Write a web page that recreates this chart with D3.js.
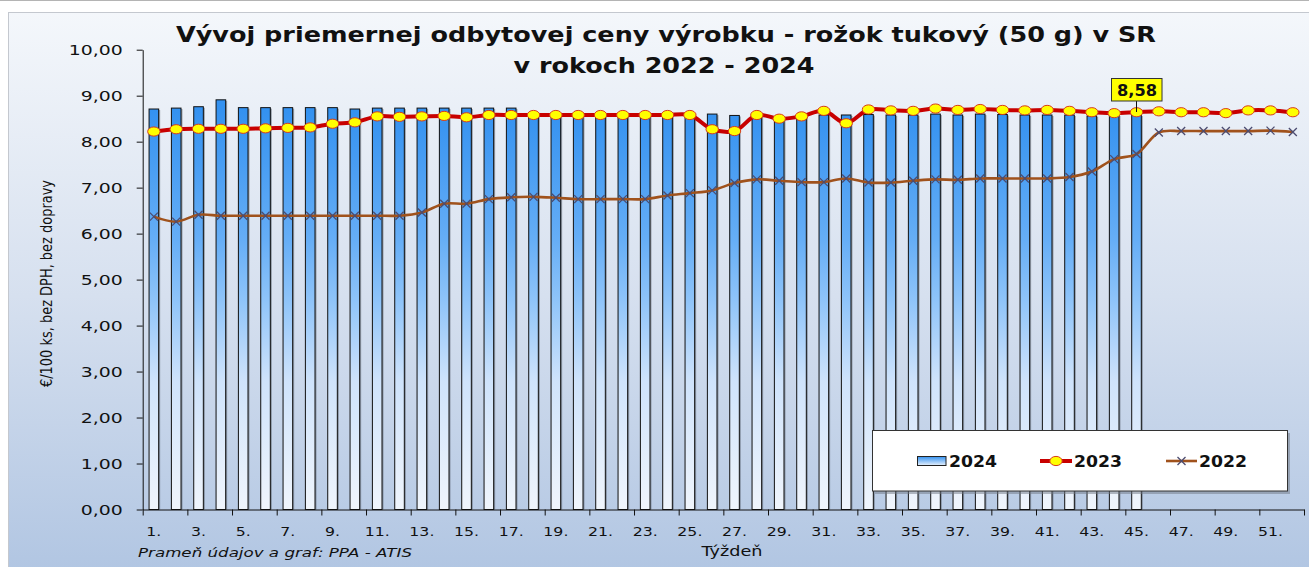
<!DOCTYPE html>
<html>
<head>
<meta charset="utf-8">
<script src="https://cdn.jsdelivr.net/npm/d3@7"></script>
<style>
  body {margin:0; background:#fff;}
  svg {display:block;}
</style>
</head>
<body>
<svg id="holder"></svg>
<script>
// categories (weeks)
var weeks=[1,2,3,4,5,6,7,8,9,10,11,12,13,14,15,16,17,18,19,20,21,22,23,24,25,26,
  27,28,29,30,31,32,33,34,35,36,37,38,39,40,41,42,43,44,45,46,47,48,49,50,51,52];

// 2024 (bars), weeks 1-45
var values2024=[8.71,8.73,8.76,8.91,8.74,8.74,8.74,8.74,8.74,8.71,8.73,8.73,8.73,8.73,8.73,8.73,8.73,
  8.58,8.58,8.58,8.58,8.58,8.58,8.58,8.58,8.60,8.57,8.58,8.52,8.55,8.58,8.58,8.59,8.58,8.58,
  8.60,8.58,8.60,8.59,8.58,8.58,8.58,8.56,8.58,8.58];

// 2023 (red line)
var values2023=[8.22,8.27,8.28,8.28,8.28,8.29,8.30,8.31,8.39,8.42,8.55,8.54,8.55,8.56,8.53,8.58,8.58,
  8.58,8.58,8.58,8.58,8.58,8.58,8.58,8.58,8.27,8.23,8.58,8.50,8.55,8.67,8.40,8.70,8.68,8.67,
  8.72,8.69,8.71,8.69,8.68,8.69,8.67,8.64,8.62,8.64,8.66,8.64,8.64,8.62,8.68,8.68,8.64];

// 2022 (brown line)
var values2022=[6.37,6.26,6.41,6.39,6.39,6.39,6.39,6.39,6.39,6.39,6.39,6.39,6.46,6.65,6.65,6.75,6.79,
  6.80,6.78,6.75,6.75,6.75,6.75,6.83,6.88,6.94,7.10,7.18,7.15,7.12,7.12,7.20,7.11,7.11,7.15,
  7.18,7.17,7.20,7.20,7.20,7.20,7.23,7.35,7.62,7.73,8.20,8.23,8.23,8.23,8.23,8.24,8.21];

var yTicks=[0,1,2,3,4,5,6,7,8,9,10];
var xLabelWeeks=[1,3,5,7,9,11,13,15,17,19,21,23,25,27,29,31,33,35,37,39,41,43,45,47,49,51];
var seriesNames=['2024','2023','2022'];

var titleLines=['Vývoj priemernej odbytovej ceny výrobku - rožok tukový (50 g) v SR','v rokoch 2022 - 2024'];
var yTitle='€/100 ks, bez DPH, bez dopravy';
var xTitle='Týždeň';
var sourceText='Prameň údajov a graf: PPA - ATIS';

var W=1309, H=567;
var svg=d3.select('#holder').attr('width',W).attr('height',H);
var defs=svg.append('defs');

var bg=defs.append('linearGradient').attr('id','bg').attr('x1',0).attr('y1',0).attr('x2',0).attr('y2',1);
bg.append('stop').attr('offset',0).attr('stop-color','#f4f7fb');
bg.append('stop').attr('offset',0.5).attr('stop-color','#d6e0ef');
bg.append('stop').attr('offset',1).attr('stop-color','#b0c5e2');

var barg=defs.append('linearGradient').attr('id','barg').attr('gradientUnits','userSpaceOnUse')
  .attr('x1',0).attr('y1',108).attr('x2',0).attr('y2',510);
[[0,'#3391f0'],[0.33,'#66aef6'],[0.48,'#8fc4f9'],[0.68,'#cfe3fb'],[1,'#f0f5fc']].forEach(function(s) {
  barg.append('stop').attr('offset',s[0]).attr('stop-color',s[1]);
});
var legg=defs.append('linearGradient').attr('id','legg').attr('x1',0).attr('y1',0).attr('x2',0).attr('y2',1);
legg.append('stop').attr('offset',0).attr('stop-color','#3391f0');
legg.append('stop').attr('offset',1).attr('stop-color','#e8f1fc');

// frame
svg.append('rect').attr('x',0).attr('y',0).attr('width',W).attr('height',H).attr('fill','#fff');
svg.append('line').attr('x1',0).attr('x2',W).attr('y1',0.5).attr('y2',0.5).attr('stroke','#b4b4b4');
svg.append('rect').attr('x',8.5).attr('y',12.5).attr('width',W).attr('height',H)
  .attr('fill','url(#bg)').attr('stroke','#c4c8cf');

function stretch(sel,factor) {
  sel.each(function() {
    var w=this.getComputedTextLength();
    d3.select(this).attr('textLength',w*factor).attr('lengthAdjust','spacingAndGlyphs');
  });
}
function fitWidth(sel,w) {
  sel.attr('textLength',w).attr('lengthAdjust','spacingAndGlyphs');
}

var xband=d3.scaleBand().domain(weeks).range([142.7,1304]).paddingInner(0).paddingOuter(0);
var xlin=d3.scaleLinear().domain([0,weeks.length]).range([142.7,1304]);
var yscale=d3.scaleLinear().domain([0,10]).range([509.5,49.7]);
var bw=xband.bandwidth();
function cx(w) {return xband(w)+bw/2;}

var gg=svg.append('g');

// y axis
var yAxis=d3.axisLeft(yscale).tickValues(yTicks).tickSize(6).tickSizeOuter(0)
  .tickFormat(function(d) {return d.toFixed(2).replace('.',',');});
var ya=gg.append('g').attr('class','axis').attr('transform','translate(142.7,0)').call(yAxis);
ya.selectAll('text').attr('x',-20).attr('dy','0.36em')
  .style('font-family','DejaVu Sans, Verdana, sans-serif').style('font-size','14.5px').attr('fill','#111');
stretch(ya.selectAll('text'),1.3);

// bars 2024
var barW=bw*0.43;
var barData=values2024.map(function(v,i) {return {w:weeks[i],v:v};});
gg.append('g').selectAll('rect.shadow').data(barData).enter().append('rect')
  .attr('x',function(d) {return cx(d.w)-barW/2+1.5;})
  .attr('y',function(d) {return yscale(d.v)+1;})
  .attr('width',barW).attr('height',function(d) {return yscale(0)-yscale(d.v)-1;})
  .attr('fill','#5a6270').attr('opacity',0.55);
gg.append('g').selectAll('rect.bar').data(barData).enter().append('rect')
  .attr('x',function(d) {return cx(d.w)-barW/2;})
  .attr('y',function(d) {return yscale(d.v);})
  .attr('width',barW).attr('height',function(d) {return yscale(0)-yscale(d.v);})
  .attr('fill','url(#barg)').attr('stroke','#111').attr('stroke-width',1);

// x axis: tick marks every 2 weeks at band edges, labels at odd weeks
var xTickAxis=d3.axisBottom(xlin).tickValues(d3.range(0,weeks.length+1,2)).tickSize(6).tickSizeOuter(0).tickFormat('');
gg.append('g').attr('class','axis').attr('transform','translate(0,509.5)').call(xTickAxis);
var xLabAxis=d3.axisBottom(xband).tickValues(xLabelWeeks).tickSize(0).tickPadding(18)
  .tickFormat(function(d) {return d+'.';});
var xl=gg.append('g').attr('transform','translate(0,509.5)').call(xLabAxis);
xl.select('.domain').remove();
xl.selectAll('text').style('font-family','DejaVu Sans, Verdana, sans-serif').style('font-size','12.5px').attr('fill','#111');
stretch(xl.selectAll('text'),1.26);
gg.selectAll('.axis path, .axis line').attr('stroke','#111').attr('stroke-width',1);

// 2022 line
var line=d3.line()
  .x(function(d) {return cx(d.w);})
  .y(function(d) {return yscale(d.v);})
  .curve(d3.curveCatmullRom.alpha(0.5));
var data2022=values2022.map(function(v,i) {return {w:weeks[i],v:v};});
var data2023=values2023.map(function(v,i) {return {w:weeks[i],v:v};});

gg.append('path').attr('d',line(data2022)).attr('fill','none')
  .attr('stroke','#a0521c').attr('stroke-width',2.6);
function xMarker(sel,s) {
  sel.append('path').attr('d','M'+(-s)+','+(-s)+'L'+s+','+s+'M'+(-s)+','+s+'L'+s+','+(-s))
    .attr('stroke','#4c4c70').attr('stroke-width',1.3).attr('fill','none');
}
gg.append('g').selectAll('g').data(data2022).enter().append('g')
  .attr('transform',function(d) {return 'translate('+cx(d.w)+','+yscale(d.v)+')';})
  .call(xMarker,4);

// 2023 line
gg.append('path').attr('d',line(data2023)).attr('fill','none')
  .attr('stroke','#c80000').attr('stroke-width',4);
gg.append('g').selectAll('ellipse').data(data2023).enter().append('ellipse')
  .attr('cx',function(d) {return cx(d.w);})
  .attr('cy',function(d) {return yscale(d.v);})
  .attr('rx',6.2).attr('ry',4.6)
  .attr('fill','#ffff00').attr('stroke','#d83a1c').attr('stroke-width',1);

// data label for last 2024 value
var lastW=weeks[values2024.length-1];
var lastV=values2024[values2024.length-1];
var lx=cx(lastW);
gg.append('line').attr('x1',lx).attr('x2',lx).attr('y1',101).attr('y2',yscale(lastV)-3)
  .attr('stroke','#111').attr('stroke-width',1);
gg.append('rect').attr('x',lx-25).attr('y',78.5).attr('width',50.5).attr('height',22.5)
  .attr('fill','#ffff00').attr('stroke','#333').attr('stroke-width',1);
var lt=gg.append('text').attr('x',lx+0.5).attr('y',96).attr('text-anchor','middle')
  .style('font-family','DejaVu Sans, Verdana, sans-serif').style('font-weight','bold').style('font-size','15px')
  .attr('fill','#111').text(lastV.toFixed(2).replace('.',','));
fitWidth(lt,40);

// title
var t1=svg.append('text').attr('x',666).attr('y',42).attr('text-anchor','middle')
  .style('font-family','DejaVu Sans, Verdana, sans-serif').style('font-weight','bold').style('font-size','21px')
  .attr('fill','#111').text(titleLines[0]);
fitWidth(t1,980);
var t2=svg.append('text').attr('x',664).attr('y',73).attr('text-anchor','middle')
  .style('font-family','DejaVu Sans, Verdana, sans-serif').style('font-weight','bold').style('font-size','21px')
  .attr('fill','#111').text(titleLines[1]);
fitWidth(t2,301);

// axis titles
var yt=svg.append('text').attr('transform','translate(52,283.5) rotate(-90)').attr('text-anchor','middle')
  .style('font-family','Liberation Sans Narrow, Arial Narrow, DejaVu Sans Condensed, sans-serif').style('font-size','16px')
  .attr('fill','#111').text(yTitle);
fitWidth(yt,207);
var xt=svg.append('text').attr('x',732).attr('y',556).attr('text-anchor','middle')
  .style('font-family','DejaVu Sans, Verdana, sans-serif').style('font-size','13.5px')
  .attr('fill','#111').text(xTitle);
fitWidth(xt,61);
var st=svg.append('text').attr('x',138).attr('y',557)
  .style('font-family','DejaVu Sans, Verdana, sans-serif').style('font-style','italic').style('font-size','12.5px')
  .attr('fill','#111').text(sourceText);
fitWidth(st,274);

// legend
var lg=svg.append('g');
lg.append('rect').attr('x',875).attr('y',433).attr('width',415).attr('height',61).attr('fill','#707884').attr('opacity',0.5);
lg.append('rect').attr('x',872.5).attr('y',430.5).attr('width',415).attr('height',60.5)
  .attr('fill','#fff').attr('stroke','#333').attr('stroke-width',1);
var legY=461;
var legItems=[
  {name:seriesNames[0],sx:917,tx:949,tw:48},
  {name:seriesNames[1],sx:1040,tx:1074,tw:48},
  {name:seriesNames[2],sx:1166,tx:1199,tw:48}
];
lg.append('rect').attr('x',legItems[0].sx+0.5).attr('y',456.5).attr('width',28.5).attr('height',9)
  .attr('fill','url(#legg)').attr('stroke','#222').attr('stroke-width',1);
lg.append('line').attr('x1',legItems[1].sx).attr('x2',legItems[1].sx+32).attr('y1',legY).attr('y2',legY)
  .attr('stroke','#c80000').attr('stroke-width',4);
lg.append('ellipse').attr('cx',legItems[1].sx+16).attr('cy',legY).attr('rx',6.2).attr('ry',4.6)
  .attr('fill','#ffff00').attr('stroke','#d83a1c');
lg.append('line').attr('x1',legItems[2].sx).attr('x2',legItems[2].sx+31).attr('y1',legY).attr('y2',legY)
  .attr('stroke','#a0521c').attr('stroke-width',2.6);
lg.append('g').attr('transform','translate('+(legItems[2].sx+15.5)+','+legY+')').call(xMarker,4);
lg.selectAll('text.leg').data(legItems).enter().append('text')
  .attr('x',function(d) {return d.tx;}).attr('y',467)
  .style('font-family','DejaVu Sans, Verdana, sans-serif').style('font-weight','bold').style('font-size','15.5px')
  .attr('fill','#111').text(function(d) {return d.name;})
  .attr('textLength',function(d) {return d.tw;}).attr('lengthAdjust','spacingAndGlyphs');
</script>
</body>
</html>
